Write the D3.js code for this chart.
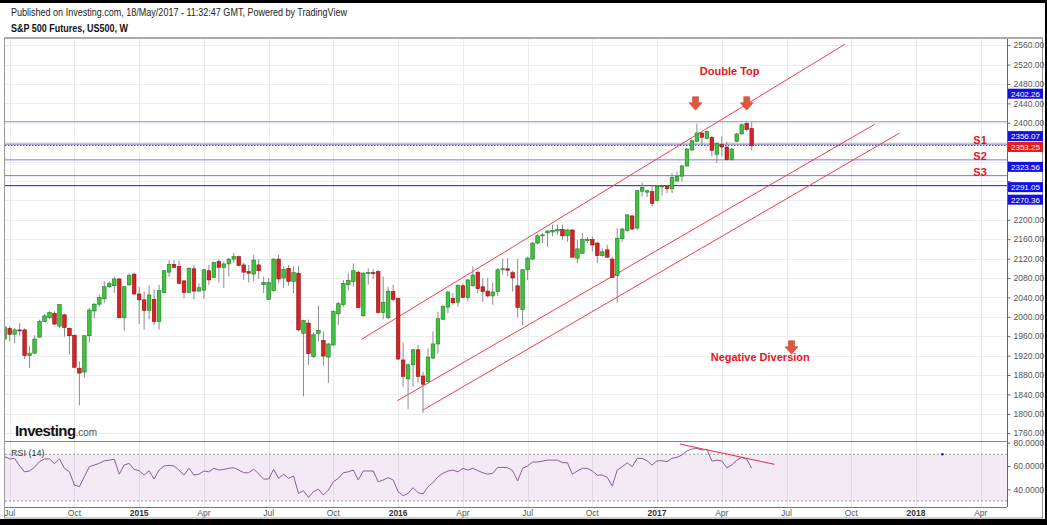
<!DOCTYPE html>
<html>
<head>
<meta charset="utf-8">
<script src="https://cdn.jsdelivr.net/npm/d3@7"></script>
<style>
  body { margin: 0; background: #fff; }
  svg { display: block; font-family: "Liberation Sans", Arial, sans-serif; }
</style>
</head>
<body>
<svg id="chart"></svg>
<script>
// weekly bars, S&P 500 futures, Jun 2014 - May 2017
const firstWeek = "2014-06-30"
const lastWeek = "2017-05-15"

const opens = [1954,1976,1964,1973,1973,1920,1925,1958,1990,1998,2007,1981,2004,1976,1962,1894,1886,1961,2012,2026,
  2037,2062,2064,2078,1998,2066,2088,2047,2035,2013,2036,1990,2050,2092,2108,2104,2074,2050,2099,2053,
  2055,2095,2081,2114,2102,2109,2119,2124,2107,2093,2088,2107,2066,2036,2054,2119,2080,2100,2073,2090,
  1966,1987,1918,1966,1951,1917,1942,2006,2025,2066,2073,2092,2002,2089,2091,2093,2009,1998,2052,2038,
  1911,1872,1901,1932,1878,1867,1915,1944,1995,2020,2038,2030,2064,2040,2064,2092,2062,2053,2043,2052,
  2098,2099,2091,2064,2015,2097,2119,2152,2167,2173,2175,2177,2180,2167,2179,2121,2131,2157,2159,2152,
  2126,2138,2119,2085,2161,2178,2208,2183,2259,2257,2258,2240,2268,2269,2264,2280,2290,2311,2344,2362,
  2379,2368,2370,2335,2355,2350,2324,2362,2377,2399,2388]
const highs = [1981,1980,1977,1987,1976,1939,1962,1994,2006,2012,2011,2025,2006,1978,1964,1908,1962,2018,2028,2045,
  2073,2073,2083,2080,2062,2090,2090,2062,2052,2064,2056,2066,2097,2117,2117,2116,2076,2102,2107,2069,
  2099,2107,2114,2119,2114,2121,2132,2126,2112,2107,2128,2119,2083,2080,2121,2128,2104,2107,2104,2105,
  1994,1994,1968,2023,1970,1946,2013,2031,2076,2090,2110,2095,2092,2100,2098,2097,2083,2062,2066,2040,
  1947,1904,1933,1942,1887,1935,1970,2011,2025,2054,2049,2067,2068,2078,2104,2095,2080,2080,2071,2100,
  2120,2121,2095,2119,2098,2124,2154,2171,2173,2179,2190,2190,2190,2181,2181,2159,2173,2164,2166,2155,
  2141,2148,2124,2183,2183,2212,2210,2262,2277,2262,2270,2272,2272,2272,2296,2299,2313,2348,2365,2398,
  2380,2384,2373,2359,2372,2361,2348,2379,2398,2401,2401]
const lows = [1952,1949,1946,1961,1913,1894,1923,1957,1990,1996,1983,1977,1959,1922,1894,1817,1875,1947,1997,2021,
  2028,2059,2049,1997,1972,2064,2045,1985,1973,1995,1983,1974,2049,2082,2100,2067,2038,2049,2036,2052,
  2037,2066,2080,2071,2059,2083,2112,2104,2076,2071,2073,2078,2049,2035,2052,2069,2059,2064,2049,1970,
  1836,1901,1915,1949,1899,1864,1940,1983,2021,2054,2062,2018,2001,2066,2078,2006,1995,1995,2032,1911,
  1856,1810,1856,1863,1802,1863,1913,1924,1994,2008,2025,2021,2038,2032,2062,2049,2031,2040,2025,2043,
  2087,2084,2052,1999,1983,2076,2117,2150,2152,2144,2166,2169,2159,2155,2121,2111,2130,2152,2135,2111,
  2124,2121,2080,2029,2155,2176,2179,2179,2248,2247,2227,2238,2250,2255,2255,2279,2279,2310,2342,2360,
  2355,2366,2331,2317,2331,2322,2322,2360,2375,2382,2343]
const closes = [1979,1964,1973,1972,1920,1925,1954,1990,2002,2009,1985,2025,1978,1961,1896,1884,1961,2014,2026,2040,
  2062,2069,2078,1998,2062,2085,2047,2035,2013,2045,1990,2054,2095,2108,2102,2069,2050,2100,2053,2060,
  2097,2076,2112,2102,2109,2119,2124,2106,2092,2090,2117,2095,2071,2071,2119,2078,2098,2073,2091,1973,
  1992,1924,1963,1972,1919,1944,2011,2027,2069,2075,2095,2019,2090,2091,2089,2009,2030,2053,2036,1913,
  1877,1901,1932,1877,1861,1917,1944,1996,2021,2051,2029,2065,2040,2076,2086,2058,2052,2043,2051,2097,
  2099,2096,2080,2019,2097,2121,2152,2167,2169,2177,2178,2180,2167,2179,2123,2140,2159,2160,2148,2126,
  2134,2123,2081,2162,2181,2210,2181,2260,2267,2260,2234,2269,2270,2264,2287,2290,2311,2346,2363,2379,
  2370,2382,2343,2358,2350,2324,2346,2377,2396,2386,2353]
const rsi = [68,66,66.5,60,55,55.7,59,63.7,66,66,62,66,58,55,43.7,42.3,50.8,59.4,60.8,62.2,
  64.5,65,65.7,53,60.8,62.2,57,56,52.2,56,48.8,56.5,60,60.5,60,56.5,52.2,58,52.2,53,
  55.7,55,58,56.5,57,58,58.5,56.5,54.2,54.2,57.4,53,48.8,48.8,57,49.4,53,49.4,51.4,36.5,
  38.8,33.1,38,40,35.1,39.4,46.5,49.4,54.2,55,56.5,48,55.7,55.7,55.7,46.5,48,50,48,38,
  34.5,36.5,41.4,37.1,36,42.2,45.7,50.8,53.7,55.7,56.5,55,58,56.5,58,56,54.2,53,53.7,58.8,
  58.8,58.5,56,47.1,58,60,63.4,63.4,64.2,65,65,65,62.8,62.8,53,55.7,58,58,55.7,52.2,
  52.2,50.2,42.8,56.5,59.4,62.8,59.4,66.5,66.5,64.5,60.8,64.5,64.5,63.7,66.5,67.4,69.4,73,74.5,75,
  73.7,74.2,64.2,65,64.2,58.5,60.8,65,67.4,65.7,58]

// axis ticks
const tickDates = ["2014-07-07","2014-10-06","2015-01-05","2015-04-06","2015-07-06","2015-10-05","2016-01-04","2016-04-04",
  "2016-07-04","2016-10-03","2017-01-02","2017-04-03","2017-07-03","2017-10-02","2018-01-01","2018-04-02"]
const priceTicks = d3.range(1760, 2561, 40)
const rsiTicks = [40, 60, 80]

// drawn levels and annotations
const levelPrices = [2402.26, 2356.07, 2323.56, 2291.05, 2270.36]
const levelColors = ["#8c8ce6", "#6a6ad8", "#7a7ad8", "#7a7ad8", "#2020a0"]
const lastPrice = 2353.25
const boxLabels = [2402.26, 2356.07, 2353.25, 2323.56, 2291.05, 2270.36]
const channelLines = [
  [["2015-11-14", 1954], ["2017-09-23", 2562]],
  [["2016-01-03", 1827], ["2017-11-04", 2397]],
  [["2016-02-07", 1807], ["2017-12-09", 2379]]
]
const rsiTrend = [["2017-02-03", 78.8], ["2017-06-16", 61.4]]
const supportNames = ["S1", "S2", "S3"]
const arrowPoints = [["2017-02-25", 2426], ["2017-05-08", 2426], ["2017-07-10", 1923]]

const width = 1047
const height = 525
const pane = { left: 5, right: 1007, top: 39, mid: 441, bottom: 507 }

const parse = d3.timeParse("%Y-%m-%d")
const weeks = d3.timeMonday.range(parse(firstWeek), d3.timeDay.offset(parse(lastWeek), 1))
const bars = weeks.map((d, i) => ({ date: d, o: opens[i], h: highs[i], l: lows[i], c: closes[i], rsi: rsi[i] }))

const x = d3.scaleTime()
  .domain([parse(firstWeek), parse(lastWeek)])
  .range([4.7, 751.7])
const y = d3.scaleLinear()
  .domain([1760, 2560])
  .range([433.2, 45.2])
const yRsi = d3.scaleLinear()
  .domain([30, 70])
  .range([501, 454.3])

// price boxes get pushed apart like the platform does
const boxShift = [-28, -8, 1.5, 7, 11.5, 14]
const boxY = boxLabels.map((p, i) => y(p) + boxShift[i])

const svg = d3.select("#chart")
  .attr("width", width)
  .attr("height", height)

const defs = svg.append("defs")
defs.append("clipPath").attr("id", "clipMain")
  .append("rect")
  .attr("x", pane.left).attr("y", pane.top)
  .attr("width", pane.right - pane.left).attr("height", pane.mid - pane.top)
defs.append("clipPath").attr("id", "clipRsi")
  .append("rect")
  .attr("x", pane.left).attr("y", pane.mid)
  .attr("width", pane.right - pane.left).attr("height", pane.bottom - pane.mid)

// Header
svg.append("text")
  .attr("x", 11).attr("y", 16)
  .attr("font-size", 10)
  .attr("fill", "#222")
  .attr("textLength", 336).attr("lengthAdjust", "spacingAndGlyphs")
  .text("Published on Investing.com, 18/May/2017 - 11:32:47 GMT, Powered by TradingView")
svg.append("text")
  .attr("x", 11).attr("y", 32)
  .attr("font-size", 10).attr("font-weight", "bold")
  .attr("fill", "#111")
  .attr("textLength", 117).attr("lengthAdjust", "spacingAndGlyphs")
  .text("S&P 500 Futures, US500, W")

// Grid
const grid = svg.append("g")
tickDates.forEach(t => {
  const gx = Math.round(x(parse(t))) + 0.5
  if (gx > pane.right) return
  grid.append("line")
    .attr("x1", gx).attr("x2", gx)
    .attr("y1", pane.top).attr("y2", pane.bottom)
    .attr("stroke", "#ebebeb")
})
priceTicks.forEach(p => {
  const gy = Math.round(y(p)) + 0.5
  grid.append("line")
    .attr("x1", pane.left).attr("x2", pane.right)
    .attr("y1", gy).attr("y2", gy)
    .attr("stroke", "#ededed")
})

// RSI band
const rsiG = svg.append("g").attr("clip-path", "url(#clipRsi)")
rsiG.append("rect")
  .attr("x", pane.left).attr("width", pane.right - pane.left)
  .attr("y", yRsi(70)).attr("height", yRsi(30) - yRsi(70))
  .attr("fill", "#9b4fb0").attr("fill-opacity", 0.12)
;[70, 30].forEach(v => {
  rsiG.append("line")
    .attr("x1", pane.left).attr("x2", pane.right)
    .attr("y1", yRsi(v)).attr("y2", yRsi(v))
    .attr("stroke", "#999").attr("stroke-dasharray", "2,2")
})
rsiG.append("path")
  .datum(bars)
  .attr("fill", "none")
  .attr("stroke", "#8f5b9e")
  .attr("stroke-width", 1)
  .attr("d", d3.line().x(d => x(d.date)).y(d => yRsi(d.rsi)))
rsiG.append("line")
  .attr("x1", x(parse(rsiTrend[0][0]))).attr("y1", yRsi(rsiTrend[0][1]))
  .attr("x2", x(parse(rsiTrend[1][0]))).attr("y2", yRsi(rsiTrend[1][1]))
  .attr("stroke", "#f0284a").attr("stroke-width", 1)
rsiG.append("circle")
  .attr("cx", x(parse("2018-02-07"))).attr("cy", yRsi(70))
  .attr("r", 1.3).attr("fill", "#1a1a8a")
svg.append("text")
  .attr("x", 11).attr("y", 456)
  .attr("font-size", 9).attr("fill", "#333")
  .text("RSI (14)")

// Main pane
const main = svg.append("g").attr("clip-path", "url(#clipMain)")

main.selectAll("line.level")
  .data(levelPrices)
  .join("line")
  .attr("class", "level")
  .attr("x1", pane.left).attr("x2", pane.right)
  .attr("y1", d => y(d)).attr("y2", d => y(d))
  .attr("stroke", (d, i) => levelColors[i])
  .attr("stroke-width", 1)
main.append("line")
  .attr("x1", pane.left).attr("x2", pane.right)
  .attr("y1", y(lastPrice)).attr("y2", y(lastPrice))
  .attr("stroke", "#e02020").attr("stroke-dasharray", "1.5,1.5")

main.selectAll("line.channel")
  .data(channelLines)
  .join("line")
  .attr("class", "channel")
  .attr("x1", d => x(parse(d[0][0]))).attr("y1", d => y(d[0][1]))
  .attr("x2", d => x(parse(d[1][0]))).attr("y2", d => y(d[1][1]))
  .attr("stroke", "#f23c4c").attr("stroke-width", 1)

// Candles
const candle = main.selectAll("g.bar")
  .data(bars)
  .join("g")
  .attr("class", "bar")
candle.append("line")
  .attr("x1", d => x(d.date)).attr("x2", d => x(d.date))
  .attr("y1", d => y(d.h)).attr("y2", d => y(d.l))
  .attr("stroke", "#8c8c8c")
candle.append("rect")
  .attr("x", d => x(d.date) - 1.8)
  .attr("width", 3.6)
  .attr("y", d => y(Math.max(d.o, d.c)))
  .attr("height", d => Math.max(1, Math.abs(y(d.o) - y(d.c))))
  .attr("fill", d => d.c >= d.o ? "#3fc23f" : "#d42424")
  .attr("stroke", d => d.c >= d.o ? "#1e7d1e" : "#8e1212")
  .attr("stroke-width", 0.6)

// Annotations
const red = "#e8141c"
main.append("text")
  .attr("x", x(parse("2017-04-14"))).attr("y", y(2498))
  .attr("text-anchor", "middle").attr("font-size", 11).attr("font-weight", "bold")
  .attr("fill", red).text("Double Top")
main.append("text")
  .attr("x", x(parse("2017-05-27"))).attr("y", y(1909))
  .attr("text-anchor", "middle").attr("font-size", 11).attr("font-weight", "bold")
  .attr("fill", red).text("Negative Diversion")
main.selectAll("text.sup")
  .data(supportNames)
  .join("text")
  .attr("class", "sup")
  .attr("x", x(parse("2018-04-01")))
  .attr("y", (d, i) => y(levelPrices[i + 1]))
  .attr("text-anchor", "middle").attr("font-size", 11).attr("font-weight", "bold")
  .attr("fill", red).text(d => d)
main.selectAll("path.arrow")
  .data(arrowPoints)
  .join("path")
  .attr("class", "arrow")
  .attr("transform", d => `translate(${x(parse(d[0]))},${y(d[1])})`)
  .attr("d", "M0,0L-6.5,-7.5L-3,-7.5L-3,-13.5L3,-13.5L3,-7.5L6.5,-7.5Z")
  .attr("fill", "#e2553e")
  .attr("stroke", "#c03a28").attr("stroke-width", 0.5)

// Investing.com mark
const logo = svg.append("text").attr("x", 15).attr("y", 436)
logo.append("tspan").attr("font-size", 15).attr("font-weight", "bold")
  .attr("letter-spacing", -0.6).attr("fill", "#111").text("Investing")
logo.append("tspan").attr("font-size", 10).attr("fill", "#555").text(".com")

// Pane borders
svg.append("line")
  .attr("x1", pane.left - 1).attr("x2", pane.right)
  .attr("y1", pane.mid + 0.5).attr("y2", pane.mid + 0.5)
  .attr("stroke", "#888")
svg.append("line")
  .attr("x1", pane.left - 1).attr("x2", pane.right)
  .attr("y1", pane.bottom + 0.5).attr("y2", pane.bottom + 0.5)
  .attr("stroke", "#777")
svg.append("rect")
  .attr("x", 4.5).attr("y", pane.top - 1)
  .attr("width", 1038).attr("height", 480)
  .attr("fill", "none").attr("stroke", "#999").attr("stroke-width", 1)
svg.append("line")
  .attr("x1", 4).attr("x2", 1043)
  .attr("y1", pane.top - 1).attr("y2", pane.top - 1)
  .attr("stroke", "#aaa").attr("stroke-width", 2)

// Price axis, labels under a price box are left out
const yAxis = d3.axisRight(y)
  .tickValues(priceTicks)
  .tickFormat(d => boxY.some(b => Math.abs(b - y(d)) < 9.5) ? "" : d3.format(".2f")(d))
  .tickSize(3)
const gy = svg.append("g")
  .attr("transform", `translate(${pane.right + 0.5}, 0)`)
  .call(yAxis)
gy.select(".domain").attr("stroke", "#666").attr("d", `M0,${pane.top}V${pane.mid}`)
gy.selectAll(".tick line").attr("stroke", "#666")
gy.selectAll(".tick text").attr("font-size", 8.5).attr("fill", "#555")
  .attr("font-family", "Liberation Sans, Arial, sans-serif")

const rsiAxis = d3.axisRight(yRsi)
  .tickValues(rsiTicks)
  .tickFormat(d3.format(".4f"))
  .tickSize(3)
const gr = svg.append("g")
  .attr("transform", `translate(${pane.right + 0.5}, 0)`)
  .call(rsiAxis)
gr.select(".domain").attr("stroke", "#666").attr("d", `M0,${pane.mid}V${pane.bottom}`)
gr.selectAll(".tick line").attr("stroke", "#666")
gr.selectAll(".tick text").attr("font-size", 8.5).attr("fill", "#555")
  .attr("font-family", "Liberation Sans, Arial, sans-serif")

// Price boxes
boxLabels.forEach((p, i) => {
  const cy = boxY[i]
  const isLast = p === lastPrice
  svg.append("rect")
    .attr("x", pane.right + 1).attr("y", cy - 5)
    .attr("width", 35).attr("height", 10)
    .attr("fill", isLast ? "#e51c1c" : "#1212e6")
  svg.append("text")
    .attr("x", pane.right + 4).attr("y", cy + 3)
    .attr("font-size", 8).attr("fill", "#fff")
    .text(d3.format(".2f")(p))
})

// Time axis labels
const fmtMonth = d3.timeFormat("%b")
const fmtYear = d3.timeFormat("%Y")
svg.selectAll("text.xt")
  .data(tickDates.map(parse))
  .join("text")
  .attr("class", "xt")
  .attr("x", d => x(d))
  .attr("y", 516)
  .attr("text-anchor", "middle")
  .attr("font-size", 8.5)
  .attr("font-weight", d => d.getMonth() === 0 ? "bold" : "normal")
  .attr("fill", d => d.getMonth() === 0 ? "#333" : "#555")
  .text(d => d.getMonth() === 0 ? fmtYear(d) : fmtMonth(d))

// Outer black frame
svg.append("rect").attr("x", 0).attr("y", 0).attr("width", width).attr("height", 3).attr("fill", "#000")
svg.append("rect").attr("x", 1045).attr("y", 0).attr("width", 2).attr("height", height).attr("fill", "#000")
svg.append("rect").attr("x", 0).attr("y", 519).attr("width", width).attr("height", 6).attr("fill", "#000")
</script>
</body>
</html>
